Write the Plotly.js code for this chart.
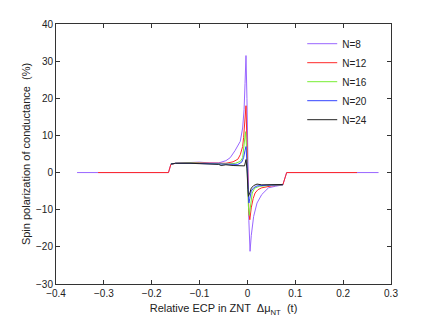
<!DOCTYPE html>
<html>
<head>
<meta charset="utf-8">
<script src="https://cdn.plot.ly/plotly-3.0.1.min.js"></script>
<style>
  body { margin: 0; background: #fff; }
  #chart { width: 432px; height: 326px; }
</style>
</head>
<body>
<div id="chart"></div>
<script>
// spin polarization vs relative ECP, one curve per ribbon width N
const seriesNames = ['N=8', 'N=12', 'N=16', 'N=20', 'N=24'];

const x8 = [-0.356, -0.165, -0.160, -0.150, -0.120, -0.100, -0.080, -0.060, -0.045, -0.036, -0.026, -0.015, -0.010, -0.007, -0.005, -0.003, -0.001, 0.001, 0.003, 0.0055, 0.008, 0.013, 0.020, 0.030, 0.044, 0.058, 0.074, 0.082, 0.274];
const y8 = [0, 0, 2.2, 2.5, 2.7, 2.8, 2.6, 2.6, 3.2, 4.0, 5.9, 8.4, 12, 17, 24, 31.5, 20, 0, -13, -21.2, -17, -11.8, -8.2, -5.9, -4.1, -3.7, -3.3, 0, 0];

const x12 = [-0.312, -0.165, -0.160, -0.150, -0.120, -0.100, -0.080, -0.060, -0.045, -0.030, -0.020, -0.015, -0.010, -0.008, -0.005, -0.003, -0.001, 0.001, 0.003, 0.005, 0.008, 0.012, 0.016, 0.022, 0.030, 0.050, 0.074, 0.082, 0.229];
const y12 = [0, 0, 2.2, 2.5, 2.6, 2.6, 2.5, 2.4, 2.5, 2.9, 3.6, 4.8, 7, 9.4, 14, 18, 8, -4, -11, -12.7, -9.5, -7, -5.5, -4.6, -4.1, -3.6, -3.3, 0, 0];

const x16 = [-0.160, -0.150, -0.120, -0.100, -0.080, -0.060, -0.040, -0.025, -0.015, -0.010, -0.006, -0.004, -0.002, 0.000, 0.002, 0.004, 0.007, 0.010, 0.015, 0.025, 0.050, 0.074];
const y16 = [2.3, 2.5, 2.6, 2.5, 2.4, 2.3, 2.3, 2.5, 3.0, 4.0, 8.4, 11, 7, -2, -9, -11.5, -8, -5.5, -4.2, -3.7, -3.4, -3.3];

const x20 = [-0.160, -0.150, -0.120, -0.100, -0.080, -0.060, -0.040, -0.020, -0.012, -0.008, -0.005, -0.003, -0.001, 0.001, 0.003, 0.005, 0.008, 0.013, 0.020, 0.040, 0.074];
const y20 = [2.3, 2.5, 2.5, 2.4, 2.3, 2.2, 2.1, 2.2, 2.8, 4.0, 6.0, 7.0, 3.0, -4.0, -8.2, -7.0, -5.0, -4.1, -3.6, -3.4, -3.3];

const x24 = [-0.160, -0.150, -0.120, -0.100, -0.080, -0.060, -0.055, -0.045, -0.030, -0.015, -0.006, -0.003, -0.001, 0.001, 0.002, 0.005, 0.008, 0.013, 0.020, 0.030, 0.050, 0.074];
const y24 = [2.3, 2.5, 2.5, 2.4, 2.2, 2.2, 1.9, 2.1, 1.9, 1.8, 1.8, 3.5, 1.0, -4.5, -6.4, -5.5, -4.2, -3.5, -3.1, -3.3, -3.2, -3.2];

const xs = [x8, x12, x16, x20, x24];
const ys = [y8, y12, y16, y20, y24];
const colors = ['#9966ff', '#ff2828', '#77ee33', '#3344ff', '#222222'];

const traces = seriesNames.map((name, i) => ({
  x: xs[i],
  y: ys[i],
  type: 'scatter',
  mode: 'lines',
  name: name,
  line: { color: colors[i], width: 1 }
}));

const font = { family: 'Liberation Sans, Arial, sans-serif', size: 10, color: '#222' };

const axisStyle = {
  showline: true,
  linecolor: '#333',
  linewidth: 1,
  mirror: 'ticks',
  ticks: 'inside',
  ticklen: 4,
  tickcolor: '#333',
  showgrid: false,
  zeroline: false,
  tickfont: font
};

const layout = {
  width: 432,
  height: 326,
  margin: { l: 56, r: 41, t: 24, b: 42 },
  paper_bgcolor: '#fff',
  plot_bgcolor: '#fff',
  font: font,
  showlegend: true,
  legend: {
    x: 0.735,
    y: 0.98,
    xanchor: 'left',
    yanchor: 'top',
    bgcolor: 'rgba(0,0,0,0)',
    borderwidth: 0,
    font: { family: font.family, size: 10, color: '#222' }
  },
  xaxis: Object.assign({}, axisStyle, {
    range: [-0.4, 0.3],
    dtick: 0.1,
    tick0: 0,
    title: { text: 'Relative ECP in ZNT  Δμ<sub>NT</sub>  (t)', font: { family: font.family, size: 11, color: '#222' }, standoff: 6 }
  }),
  yaxis: Object.assign({}, axisStyle, {
    range: [-30, 40],
    dtick: 10,
    title: { text: 'Spin polarization of conductance  (%)', font: { family: font.family, size: 11, color: '#222' }, standoff: 3 }
  })
};

Plotly.newPlot('chart', traces, layout, { staticPlot: true });
</script>
</body>
</html>
